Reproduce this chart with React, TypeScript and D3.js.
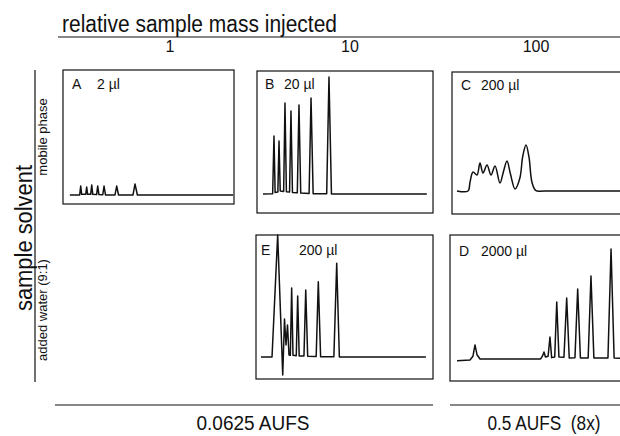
import React from "react";
import * as d3 from "d3";

// ---------- data ----------
const columnLabels = ["1", "10", "100"];
const rowLabels = ["mobile phase", "added water (9:1)"];
const scaleLabels = ["0.0625 AUFS", "0.5 AUFS  (8x)"];
const titleTop = "relative sample mass injected";
const titleLeft = "sample solvent";

// time (min) , signal (% of full scale)
const traceA: [number, number][] = [
  [0.8, 6.7], [1.95, 6.7], [2.07, 13.4], [2.18, 7.2], [2.66, 7.2], [2.77, 12.7], [2.88, 7.2],
  [3.24, 7.2], [3.36, 14.2], [3.48, 7.2], [3.93, 7.0], [4.06, 13.4], [4.2, 7.0], [4.65, 6.9],
  [4.8, 13.4], [4.97, 6.8], [6.08, 6.8], [6.28, 13.4], [6.5, 6.7], [8.18, 6.7], [8.42, 14.9],
  [8.7, 6.7], [19.9, 6.7],
];
const traceB: [number, number][] = [
  [0.68, 13.4], [1.78, 13.6], [1.93, 54.2], [2.06, 14.5], [2.37, 14.8], [2.5, 50.7], [2.64, 15.5],
  [3.03, 15.2], [3.18, 77.5], [3.34, 15], [3.7, 14.8], [3.86, 71.8], [4.03, 14.5], [4.58, 14.2],
  [4.77, 76.1], [4.97, 14], [5.92, 13.8], [6.14, 81], [6.38, 13.6], [7.92, 13.5], [8.18, 95.8],
  [8.46, 13.4], [19.3, 13.4],
];
const traceC: [number, number][] = [
  [0.57, 16.2], [1.82, 16.2], [2.05, 22.5], [2.39, 29.6], [2.84, 27.5], [3.18, 35.9], [3.52, 28.9],
  [3.98, 34.5], [4.43, 27.5], [4.89, 33.8], [5.45, 21.8], [5.85, 30], [6.25, 37.3], [6.65, 28],
  [7.16, 17.6], [7.7, 25], [8.05, 41], [8.41, 48.6], [8.75, 40], [9.1, 22], [9.55, 16.4],
  [10.5, 16.2], [20.2, 16.2],
];
const traceE: [number, number][] = [
  [0.56, 15.3], [1.81, 15.3], [2.45, 100], [3.02, 2.8], [3.22, 41.7], [3.39, 23.6], [3.56, 37.5],
  [3.73, 16.7], [3.88, 16.5], [4.03, 63.2], [4.18, 16.5], [4.55, 16.2], [4.71, 57.6], [4.88, 16],
  [5.42, 16], [5.62, 61.8], [5.84, 15.8], [6.8, 15.6], [7.04, 67.6], [7.3, 15.5], [8.8, 15.4],
  [9.12, 80.3], [9.42, 15.3], [19.2, 15.3],
];
const traceD: [number, number][] = [
  [0.8, 13.9], [2.27, 14.4], [2.61, 17], [2.84, 24.7], [3.07, 18], [3.41, 15.1], [10.3, 15.1],
  [10.5, 17], [10.68, 19.9], [10.85, 16.4], [11.15, 17], [11.36, 30.1], [11.55, 16], [11.9, 16.5],
  [12.13, 54.1], [12.38, 16.4], [12.95, 16.3], [13.26, 56.8], [13.55, 15.8], [14.2, 16],
  [14.51, 63], [14.82, 15.8], [15.7, 15.8], [16.02, 71.9], [16.35, 15.8], [17.95, 15.8],
  [18.3, 90.4], [18.65, 15.8], [20.2, 15.1],
];

// ---------- layout ----------
const W = 620;
const H = 436;
const FONT = "'Liberation Sans Narrow', 'Arial Narrow', 'Liberation Sans', Arial, sans-serif";
const INK = "#111";

type Panel = {
  id: string; vol: string; data: [number, number][];
  x0: number; x1: number; y0: number; y1: number;
  lx: number; vx: number; ly: number; smooth?: boolean;
};

const panels: Panel[] = [
  { id: "A", vol: "2 µl", data: traceA, x0: 63, x1: 234, y0: 70, y1: 204, lx: 72, vx: 97, ly: 89 },
  { id: "B", vol: "20 µl", data: traceB, x0: 257, x1: 433, y0: 71, y1: 213, lx: 265, vx: 284, ly: 89 },
  { id: "C", vol: "200 µl", data: traceC, x0: 452, x1: 628, y0: 72, y1: 214, lx: 461, vx: 481, ly: 90, smooth: true },
  { id: "E", vol: "200 µl", data: traceE, x0: 256, x1: 433, y0: 235, y1: 379, lx: 261, vx: 299, ly: 255 },
  { id: "D", vol: "2000 µl", data: traceD, x0: 450, x1: 626, y0: 235, y1: 381, lx: 459, vx: 481, ly: 256 },
];

const colX = [170, 350, 536];

function PanelView({ p }: { p: Panel }) {
  const x = d3.scaleLinear().domain([0, 20]).range([p.x0, p.x1]);
  const y = d3.scaleLinear().domain([0, 100]).range([p.y1, p.y0]);
  const line = d3
    .line<[number, number]>()
    .x((d) => x(d[0]))
    .y((d) => y(d[1]))
    .curve(p.smooth ? d3.curveCatmullRom.alpha(0.5) : d3.curveLinear);
  return (
    <g>
      <rect x={p.x0} y={p.y0} width={p.x1 - p.x0} height={p.y1 - p.y0} fill="none" stroke={INK} strokeWidth={1.2} />
      <path d={line(p.data) || ""} fill="none" stroke={INK} strokeWidth={1.5} strokeLinejoin="round" />
      <text x={p.lx} y={p.ly} fontSize={14} fontFamily={FONT} fill={INK}>{p.id}</text>
      <text x={p.vx} y={p.ly} fontSize={14} fontFamily={FONT} fill={INK}>{p.vol}</text>
    </g>
  );
}

export default function App() {
  return (
    <div style={{ position: "fixed", left: 0, top: 0, width: W, height: H, background: "#fff" }}>
      <svg width={W} height={H} viewBox={`0 0 ${W} ${H}`} style={{ display: "block" }}>
        <rect width={W} height={H} fill="#fff" />
        {/* top title */}
        <text x={62} y={32} fontSize={23} fontFamily={FONT} fill={INK} textLength={275} lengthAdjust="spacingAndGlyphs">
          {titleTop}
        </text>
        <line x1={58} x2={620} y1={37} y2={37} stroke={INK} strokeWidth={1.2} />
        {columnLabels.map((c, i) => (
          <text key={c} x={colX[i]} y={52} fontSize={16} fontFamily={FONT} fill={INK} textAnchor="middle">{c}</text>
        ))}
        {/* left title */}
        <text
          transform="translate(32,238) rotate(-90)"
          fontSize={23}
          fontFamily={FONT}
          fill={INK}
          textAnchor="middle"
          textLength={146}
          lengthAdjust="spacingAndGlyphs"
        >
          {titleLeft}
        </text>
        <line x1={35} x2={35} y1={70} y2={382} stroke={INK} strokeWidth={1.2} />
        <text transform="translate(47,137) rotate(-90)" fontSize={13} fontFamily={FONT} fill={INK} textAnchor="middle">
          {rowLabels[0]}
        </text>
        <text transform="translate(47,310) rotate(-90)" fontSize={13} fontFamily={FONT} fill={INK} textAnchor="middle">
          {rowLabels[1]}
        </text>
        {panels.map((p) => (
          <PanelView key={p.id} p={p} />
        ))}
        {/* bottom scale labels */}
        <line x1={55} x2={433} y1={405} y2={405} stroke={INK} strokeWidth={1.2} />
        <line x1={450} x2={620} y1={405} y2={405} stroke={INK} strokeWidth={1.2} />
        <text x={253} y={430} fontSize={20} fontFamily={FONT} fill={INK} textAnchor="middle" textLength={113} lengthAdjust="spacingAndGlyphs">
          {scaleLabels[0]}
        </text>
        <text x={544} y={430} fontSize={20} fontFamily={FONT} fill={INK} textAnchor="middle" textLength={113} lengthAdjust="spacingAndGlyphs" style={{ whiteSpace: "pre" }}>
          {scaleLabels[1]}
        </text>
      </svg>
    </div>
  );
}
